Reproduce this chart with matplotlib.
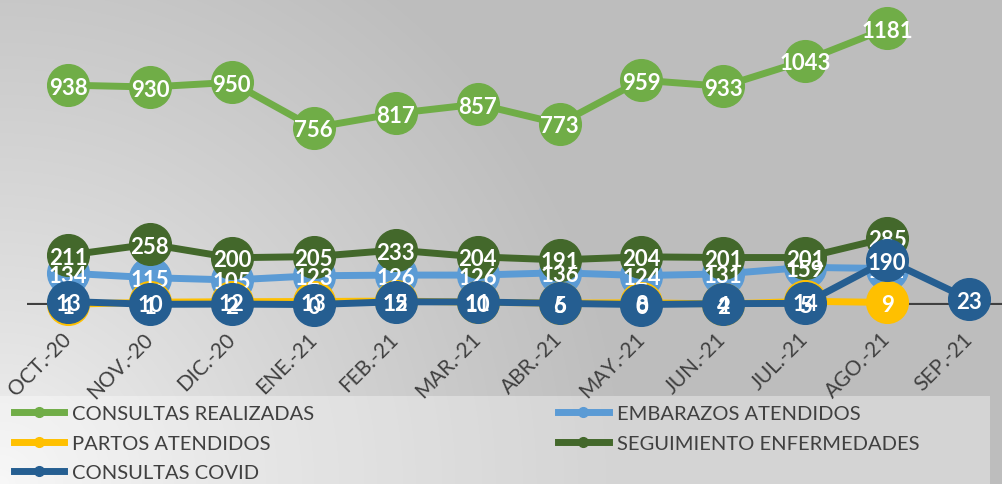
import numpy as np
import matplotlib
matplotlib.use('Agg')
import matplotlib.pyplot as plt
import matplotlib.transforms as mtransforms
from matplotlib.lines import Line2D
from matplotlib.patches import Rectangle

plt.rcParams['font.family'] = ['Lato', 'DejaVu Sans']

meses = ['OCT.-20', 'NOV.-20', 'DIC.-20', 'ENE.-21', 'FEB.-21', 'MAR.-21',
         'ABR.-21', 'MAY.-21', 'JUN.-21', 'JUL.-21', 'AGO.-21', 'SEP.-21']

consultas = [938, 930, 950, 756, 817, 857, 773, 959, 933, 1043, 1181, None]
embarazos = [134, 115, 105, 123, 126, 126, 136, 124, 131, 159, 154, None]
partos = [1, 10, 12, 13, 15, 10, 6, 8, 2, 14, 9, None]
seguimiento = [211, 258, 200, 205, 233, 204, 191, 204, 201, 201, 285, None]
covid = [13, 1, 2, 0, 12, 11, 5, 0, 4, 5, 190, 23]

# nombre, datos, color, orden marcador, orden etiqueta
series = [
    ('CONSULTAS REALIZADAS', consultas, '#70ad47', 3, 3.5),
    ('EMBARAZOS ATENDIDOS', embarazos, '#5b9bd5', 4, 6.5),
    ('PARTOS ATENDIDOS', partos, '#ffc000', 5, 7.5),
    ('SEGUIMIENTO ENFERMEDADES', seguimiento, '#43682b', 6, 6.5),
    ('CONSULTAS COVID', covid, '#255e91', 7, 7.5),
]

fig = plt.figure(figsize=(10.03, 4.85), dpi=100)

# fondo degradado, mas claro abajo a la izquierda
bg = fig.add_axes([0, 0, 1, 1], zorder=-10)
yy, xx = np.mgrid[0:485, 0:1003]
d = np.sqrt(xx ** 2 + (485 - yy) ** 2) / 620.0
t = np.clip(d, 0, 1) ** 0.8
c0, c1 = 0.96, 0.745
img = c0 + (c1 - c0) * t
bg.imshow(np.dstack([img, img, img]), aspect='auto', extent=[0, 1, 0, 1])
bg.axis('off')

ax = fig.add_axes([0.027, 0.370, 0.98, 0.627])
ax.patch.set_alpha(0)
x = np.arange(len(meses))

lbl_off = mtransforms.offset_copy(ax.transData, fig=fig, x=0, y=-2, units='dots')
for nombre, vals, color, zm, zl in series:
    xs = [i for i, v in enumerate(vals) if v is not None]
    ys = [v for v in vals if v is not None]
    ax.plot(xs, ys, color=color, lw=5, marker='o', ms=30, mec=color, mfc=color,
            zorder=zm, clip_on=False)
    for xi, yi in zip(xs, ys):
        ax.text(xi, yi, str(yi), ha='center', va='center', color='white',
                fontsize=16, fontweight='bold', zorder=zl, transform=lbl_off)

ax.set_xlim(-0.5, 11.5)
ax.set_ylim(0, 1300)
ax.axhline(0, color='#404040', lw=3, zorder=1)
for s in ax.spines.values():
    s.set_visible(False)
ax.set_yticks([])
ax.set_xticks(x)
ax.set_xticklabels(meses, rotation=45, ha='right', va='top', fontsize=15, color='#404040')
ax.tick_params(axis='x', length=0, pad=17)
offset = mtransforms.ScaledTranslation(7 / 100, 0, fig.dpi_scale_trans)
for lbl in ax.get_xticklabels():
    lbl.set_transform(lbl.get_transform() + offset)

# caja de la leyenda
fig.patches.append(Rectangle((0, 0), 990 / 1003, 88 / 485, transform=fig.transFigure,
                             facecolor='white', alpha=0.35, edgecolor='none', zorder=-5))

handles = [Line2D([0], [0], color=s[2], lw=5, marker='o', ms=7) for s in series]
names = [s[0] for s in series]
order = [0, 2, 4, 1, 3]
fig.legend([handles[i] for i in order], [names[i] for i in order], ncol=2,
           loc='upper left', bbox_to_anchor=(0.014, 0.163), frameon=False,
           borderpad=0, borderaxespad=0,
           fontsize=14.5, labelcolor='#404040', handlelength=2.5, handletextpad=0.4,
           columnspacing=12.1, labelspacing=0.62)

fig.savefig('out.png', dpi=100)
